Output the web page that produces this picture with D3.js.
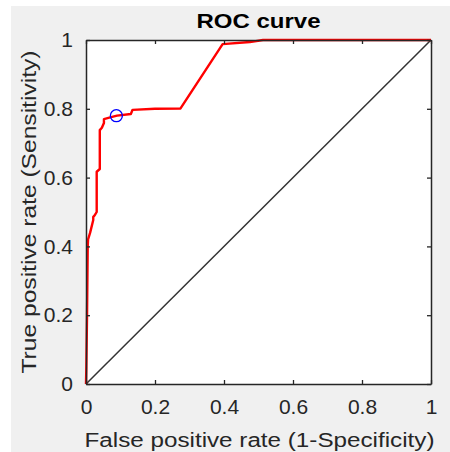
<!DOCTYPE html>
<html><head><meta charset="utf-8">
<script src="https://cdn.jsdelivr.net/npm/d3@7"></script>
<style>html,body{margin:0;padding:0;background:#fff;}svg{display:block;}</style>
</head><body>
<script>
const fpr = [0, 0.001, 0.003, 0.005, 0.006, 0.012, 0.021, 0.021, 0.025, 0.031, 0.031, 0.040, 0.040, 0.046, 0.052, 0.052, 0.07, 0.09, 0.13, 0.135, 0.2, 0.274, 0.396, 0.475, 0.513, 1];
const tpr = [0, 0.05, 0.2, 0.40, 0.42, 0.44, 0.477, 0.486, 0.49, 0.50, 0.617, 0.625, 0.738, 0.745, 0.759, 0.77, 0.775, 0.78, 0.785, 0.797, 0.80, 0.801, 0.988, 0.994, 1.0, 1.0];
const chancePoints = [[0, 0], [1, 1]];
const operatingPoint = [0.088, 0.78];
const ticks = [0, 0.2, 0.4, 0.6, 0.8, 1];
const tickLabels = ["0", "0.2", "0.4", "0.6", "0.8", "1"];
const titleText = "ROC curve";
const xLabel = "False positive rate (1-Specificity)";
const yLabel = "True positive rate (Sensitivity)";

const W = 450, H = 452;
const L = 86, R = 431, T = 40, B = 384;
const ink = "#262626";
const font = "'Liberation Sans', Arial, sans-serif";

const svg = d3.select("body").append("svg").attr("width", W).attr("height", H);
svg.append("rect").attr("x", 11).attr("y", 6).attr("width", W - 11).attr("height", H - 6).attr("fill", "#f0f0f0");

const x = d3.scaleLinear().domain([0, 1]).range([L, R]);
const y = d3.scaleLinear().domain([0, 1]).range([B, T]);

svg.append("rect").attr("x", L).attr("y", T).attr("width", R - L).attr("height", B - T).attr("fill", "#fff");

// chance line
svg.append("path").datum(chancePoints)
  .attr("d", d3.line().x(d => x(d[0])).y(d => y(d[1])))
  .attr("fill", "none").attr("stroke", "#333").attr("stroke-width", 1.5);

// ROC curve
const roc = fpr.map((v, i) => [v, tpr[i]]);
svg.append("path").datum(roc)
  .attr("d", d3.line().x(d => x(d[0])).y(d => y(d[1])))
  .attr("fill", "none").attr("stroke", "#ff0000").attr("stroke-width", 2.4).attr("stroke-linejoin", "round");

// operating point
svg.append("circle").attr("cx", x(operatingPoint[0])).attr("cy", y(operatingPoint[1])).attr("r", 6)
  .attr("fill", "none").attr("stroke", "#0000ff").attr("stroke-width", 1.3);

// axes
const fmt = d => tickLabels[ticks.indexOf(d)];
const xAxis = svg.append("g").attr("transform", `translate(0,${B})`)
  .call(d3.axisBottom(x).tickValues(ticks).tickFormat(fmt).tickSizeInner(-4).tickSizeOuter(0).tickPadding(15));
const xTop = svg.append("g").attr("transform", `translate(0,${T})`)
  .call(d3.axisTop(x).tickValues(ticks).tickFormat("").tickSizeInner(-4).tickSizeOuter(0));
const yAxis = svg.append("g").attr("transform", `translate(${L},0)`)
  .call(d3.axisLeft(y).tickValues(ticks).tickFormat(fmt).tickSizeInner(-4).tickSizeOuter(0).tickPadding(13));
const yRight = svg.append("g").attr("transform", `translate(${R},0)`)
  .call(d3.axisRight(y).tickValues(ticks).tickFormat("").tickSizeInner(-4).tickSizeOuter(0));

[xAxis, xTop, yAxis, yRight].forEach(g => {
  g.select(".domain").attr("stroke", ink).attr("stroke-width", 1.5);
  g.selectAll(".tick line").attr("stroke", ink).attr("stroke-width", 1.3);
  g.selectAll("text").attr("fill", ink).attr("font-family", font).attr("font-size", 21);
});

// title
svg.append("text").attr("x", (L + R) / 2).attr("y", 28).attr("text-anchor", "middle")
  .attr("font-family", font).attr("font-size", 21).attr("font-weight", "bold").attr("fill", "#000")
  .attr("textLength", 124).attr("lengthAdjust", "spacingAndGlyphs").text(titleText);

// x label
svg.append("text").attr("x", (L + R) / 2 + 1).attr("y", 447).attr("text-anchor", "middle")
  .attr("font-family", font).attr("font-size", 20).attr("fill", ink)
  .attr("textLength", 350).attr("lengthAdjust", "spacingAndGlyphs").text(xLabel);

// y label
svg.append("text").attr("transform", `translate(36,${(T + B) / 2}) rotate(-90)`).attr("text-anchor", "middle")
  .attr("font-family", font).attr("font-size", 20).attr("fill", ink)
  .attr("textLength", 323).attr("lengthAdjust", "spacingAndGlyphs").text(yLabel);
</script>
</body></html>
